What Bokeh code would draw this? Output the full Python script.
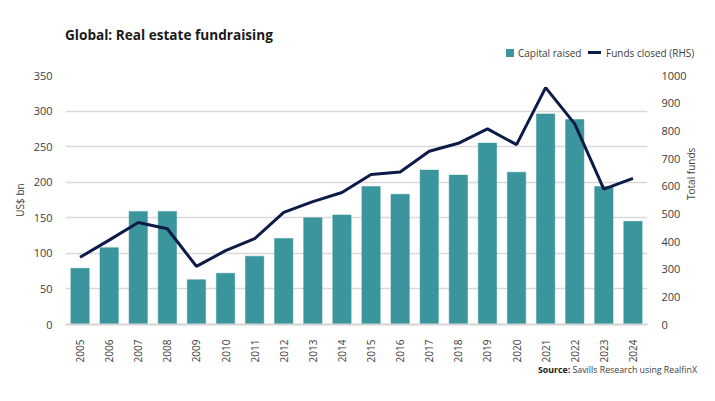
from math import pi
from bokeh.plotting import figure
from bokeh.layouts import column
from bokeh.models import (Range1d, LinearAxis, FactorRange, FixedTicker, ColumnDataSource, Div)
from bokeh.embed import file_html
from bokeh.resources import INLINE

years = ["2005", "2006", "2007", "2008", "2009", "2010", "2011", "2012", "2013", "2014",
         "2015", "2016", "2017", "2018", "2019", "2020", "2021", "2022", "2023", "2024"]
capital_raised = [79, 108, 159, 159, 63, 72, 96, 121, 150, 154,
                  194, 183, 217, 210, 255, 214, 296, 288, 194, 145]
funds_closed = [343, 405, 469, 446, 310, 367, 410, 505, 544, 577,
                642, 651, 726, 755, 807, 750, 956, 825, 589, 628]
left_ticks = [0, 50, 100, 150, 200, 250, 300, 350]
right_ticks = [100, 200, 300, 400, 500, 600, 700, 800, 900, 1000]
right_tick_labels = ["0", "200", "300", "400", "500", "600", "700", "800", "900", "1000"]

title_text = "Global: Real estate fundraising"
series_names = ["Capital raised", "Funds closed (RHS)"]
source_bold = "Source:"
source_text = "Savills Research using RealfinX"

FONT = "Open Sans"
TXT = "#3c3c3c"
TEAL = "#3a959c"
NAVY = "#0e1a48"
W = 707

# ---- header: title + legend ----
header_html = f"""
<div style="position:relative;width:{W}px;height:65px;font-family:'{FONT}';">
  <div style="position:absolute;left:65px;top:26px;font-size:13.6px;font-weight:bold;
              line-height:18px;color:#1a1a1a;white-space:nowrap;">{title_text}</div>
  <div style="position:absolute;left:506px;top:48.5px;width:8px;height:8px;
              background:{TEAL};"></div>
  <div style="position:absolute;left:518px;top:45.5px;font-size:10px;line-height:14px;
              color:{TXT};white-space:nowrap;">{series_names[0]}</div>
  <div style="position:absolute;left:588px;top:51px;width:13px;height:3px;
              background:{NAVY};"></div>
  <div style="position:absolute;left:606px;top:45.5px;font-size:10px;line-height:14px;
              color:{TXT};white-space:nowrap;">{series_names[1]}</div>
</div>"""
header = Div(text=header_html, width=W, height=65, margin=(0, 0, 0, 0))

# ---- main chart ----
src = ColumnDataSource(dict(year=years, capital=capital_raised, funds=funds_closed))

p = figure(width=W, height=300, x_range=FactorRange(*years), y_range=Range1d(0, 350),
           output_backend="svg", toolbar_location=None, tools="",
           min_border_left=65, min_border_right=55, min_border_top=10, min_border_bottom=40)
p.outline_line_color = None
p.background_fill_color = "white"
p.border_fill_color = "white"
p.extra_y_ranges = {"funds": Range1d(100, 1000)}

p.vbar(x="year", top="capital", width=0.63, source=src,
       fill_color=TEAL, line_color=TEAL, line_width=0.5)
p.line(x="year", y="funds", source=src, y_range_name="funds",
       line_color=NAVY, line_width=3)

p.xgrid.grid_line_color = None
p.ygrid.ticker = FixedTicker(ticks=left_ticks)
p.ygrid.grid_line_color = "#d9d9d9"
p.ygrid.grid_line_width = 1.4

ya = p.yaxis[0]
ya.ticker = FixedTicker(ticks=left_ticks)
ya.axis_line_color = None
ya.major_tick_line_color = None
ya.minor_tick_line_color = None
ya.major_label_standoff = 7
ya.major_label_text_font = FONT
ya.major_label_text_font_size = "11px"
ya.major_label_text_color = TXT
ya.axis_label = "US$ bn"
ya.axis_label_standoff = 4
ya.axis_label_text_font = FONT
ya.axis_label_text_font_size = "10px"
ya.axis_label_text_font_style = "normal"
ya.axis_label_text_color = TXT

xa = p.xaxis[0]
xa.axis_line_color = "#d4d4d4"
xa.axis_line_width = 2
xa.major_tick_line_color = None
xa.minor_tick_line_color = None
xa.major_label_orientation = pi / 2
xa.major_label_standoff = 9
xa.major_label_text_font = FONT
xa.major_label_text_font_size = "10px"
xa.major_label_text_color = TXT

ra = LinearAxis(y_range_name="funds", ticker=FixedTicker(ticks=right_ticks),
                major_label_overrides={t: l for t, l in zip(right_ticks, right_tick_labels)})
ra.axis_line_color = None
ra.major_tick_line_color = None
ra.minor_tick_line_color = None
ra.major_label_standoff = 8
ra.major_label_text_font = FONT
ra.major_label_text_font_size = "11px"
ra.major_label_text_color = TXT
ra.axis_label = "Total funds"
ra.axis_label_standoff = 1
ra.axis_label_orientation = pi / 2
ra.axis_label_text_font = FONT
ra.axis_label_text_font_size = "10px"
ra.axis_label_text_font_style = "normal"
ra.axis_label_text_color = TXT
p.add_layout(ra, "right")

# ---- source line ----
footer_html = f"""
<div style="position:relative;width:{W}px;height:28px;font-family:'{FONT}';">
  <div style="position:absolute;right:10px;top:0px;font-size:8.8px;line-height:11px;
              color:{TXT};white-space:nowrap;"><b style="color:#1a1a1a;">{source_bold}</b> {source_text}</div>
</div>"""
footer = Div(text=footer_html, width=W, height=28, margin=(0, 0, 0, 0))

layout = column(header, p, footer, spacing=0)
open("out.html", "w").write(file_html(layout, INLINE))
